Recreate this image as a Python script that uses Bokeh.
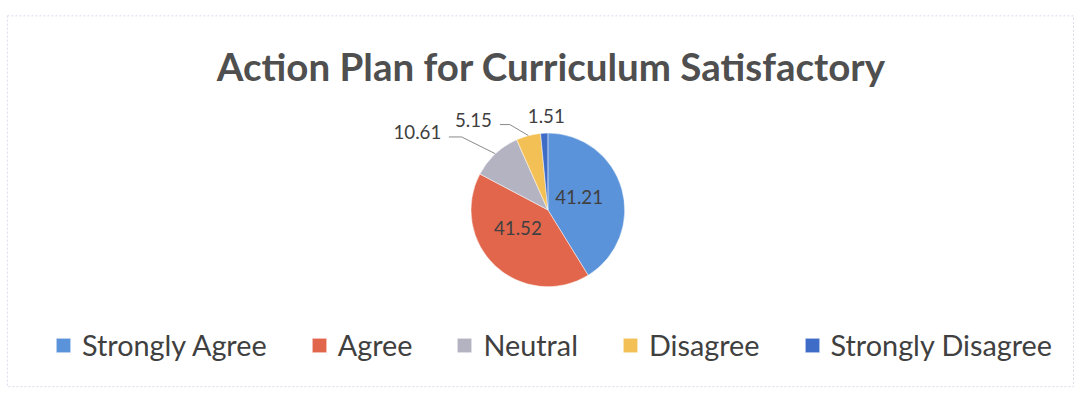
import numpy as np
from bokeh.plotting import figure
from bokeh.models import Range1d, Legend, LegendItem
from bokeh.core.properties import value
from bokeh.embed import file_html
from bokeh.resources import INLINE

# ---- data ----
categories = ["Strongly Agree", "Agree", "Neutral", "Disagree", "Strongly Disagree"]
values = [41.21, 41.52, 10.61, 5.15, 1.51]
labels = ["41.21", "41.52", "10.61", "5.15", "1.51"]
colors = ["#5b93da", "#e2664c", "#b4b3c2", "#f3c055", "#3f6cc6"]
title_text = "Action Plan for Curriculum Satisfactory"

# ---- layout: data units are reference-image pixels (y measured from the top) ----
W, H = 1075, 389
REF_W, REF_H = 1091, 405
SX, SY = W / REF_W, H / REF_H
CX, CY_IMG, R = 555.5, 218.0, 78.0
# per-label placement: (radius fraction, angle offset in degrees)
label_r = [0.44, 0.46, 1.99, 1.54, 1.26]
label_da = [6.6, -15.0, 15.5, 24.3, -1.8]
# leader line: (start dx from label, start dy, elbow length) or None
leaders = [None, None, (32, 5, 13), (27, 4.5, 10), None]


def Y(img_y):
    return REF_H - img_y


p = figure(width=W, height=H, output_backend="svg", toolbar_location=None,
           x_range=Range1d(0, REF_W), y_range=Range1d(0, REF_H),
           min_border=0, x_axis_type=None, y_axis_type=None)
p.grid.visible = False
p.outline_line_color = None
p.background_fill_color = "white"
p.border_fill_color = "white"

# faint scan border
p.quad(left=7, right=1089, top=Y(16), bottom=Y(402), fill_color=None,
       line_color="#dcd9ef", line_width=1, line_dash="2 2")

# title
p.text(x=[559], y=[Y(68)], text=[title_text], text_font=value("Lato"),
       text_font_style="bold", text_font_size="38.5px", text_color="#4f4f4f",
       text_align="center", text_baseline="middle")

vals = np.array(values, dtype=float)
frac = vals / vals.sum()
cum_end = np.cumsum(frac)
cum_start = cum_end - frac
start_angle = np.pi / 2 - 2 * np.pi * cum_end
end_angle = np.pi / 2 - 2 * np.pi * cum_start
mid_angle = (start_angle + end_angle) / 2

renderers = []
for i, cat in enumerate(categories):
    r = p.wedge(x=CX, y=Y(CY_IMG), radius=R, start_angle=start_angle[i],
                end_angle=end_angle[i], direction="anticlock",
                fill_color=colors[i], line_color="white", line_width=0.8,
                line_alpha=0.6)
    renderers.append(r)

# data labels
yfac = SX / SY  # data-y units per data-x unit on screen
for i, lab in enumerate(labels):
    a = mid_angle[i] + np.deg2rad(label_da[i])
    lx = CX + label_r[i] * R * np.cos(a)
    ly = Y(CY_IMG) + label_r[i] * R * np.sin(a)
    p.text(x=[lx], y=[ly], text=[lab], text_font=value("Lato"),
           text_font_size="18.7px", text_color="#404040",
           text_align="center", text_baseline="middle")
    if leaders[i] is not None:
        sdx, sdy, el = leaders[i]
        ex = CX + R * np.cos(mid_angle[i])
        ey = Y(CY_IMG) + R * yfac * np.sin(mid_angle[i])
        sx, sy = lx + sdx, ly - sdy
        p.line(x=[sx, sx + el, ex], y=[sy, sy, ey], line_color="#8a8a8a",
               line_width=1)

legend = Legend(items=[LegendItem(label=c, renderers=[r]) for c, r in zip(categories, renderers)],
                orientation="horizontal", location=(54, 27),
                glyph_width=18, glyph_height=18, label_standoff=10, spacing=43,
                padding=0, margin=0, border_line_color=None,
                background_fill_alpha=0,
                label_text_font="Lato", label_text_font_size="28.8px",
                label_text_color="#404040", label_text_baseline="middle")
p.add_layout(legend, "center")

open("out.html", "w").write(file_html(p, INLINE))
